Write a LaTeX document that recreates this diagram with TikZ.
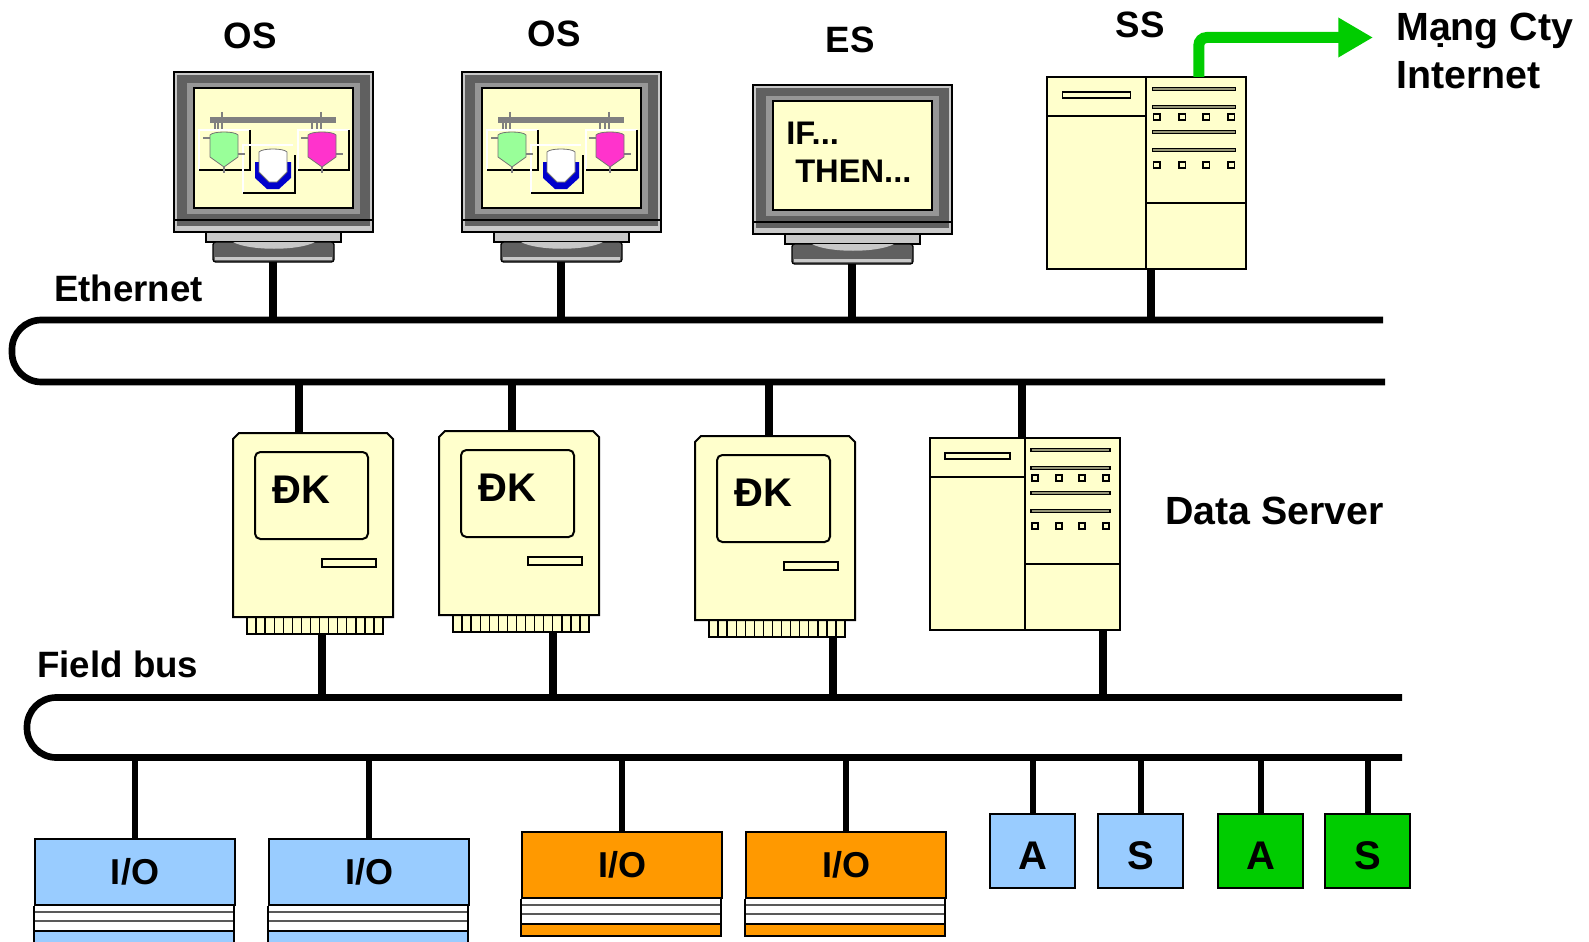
\documentclass[tikz,border=0pt]{standalone}
\usepackage{fontspec}
\setmainfont{Liberation Sans}
\usetikzlibrary{arrows.meta,calc}

\definecolor{cream}{RGB}{255,255,204}
\definecolor{skyblue}{RGB}{153,204,255}
\definecolor{amber}{RGB}{255,153,0}
\definecolor{signalgreen}{RGB}{0,204,0}
\definecolor{casedark}{RGB}{96,96,96}
\definecolor{casemid}{RGB}{150,150,150}
\definecolor{caselight}{RGB}{200,200,200}
\definecolor{pipegray}{RGB}{128,128,128}
\definecolor{tankgreen}{RGB}{153,255,153}
\definecolor{tankpink}{RGB}{255,51,204}
\definecolor{jacket}{RGB}{0,0,204}
\definecolor{slotbar}{RGB}{150,150,120}

\tikzset{
  bus/.style={line width=5pt, rounded corners=22pt},
  link/.style={line width=6pt},
  droplink/.style={line width=4.5pt},
  bodyline/.style={draw=black, line width=1.5pt},
  thinedge/.style={draw=black, line width=1pt},
  lbl/.style={font=\fontsize{27.5}{33}\selectfont\bfseries, inner sep=0pt},
  biglbl/.style={lbl, font=\fontsize{29.5}{35}\selectfont\bfseries},
  screentxt/.style={font=\fontsize{24.5}{29}\selectfont\bfseries, inner sep=0pt},
  iobox/.style={bodyline, minimum width=150pt, minimum height=49.5pt, inner sep=0pt,
                anchor=north west, font=\fontsize{27}{32}\selectfont\bfseries},
  fieldbox/.style={bodyline, minimum width=63.75pt, minimum height=55.5pt, inner sep=0pt,
                   anchor=north west, text height=27pt, text depth=0pt,
                   font=\fontsize{30}{36}\selectfont\bfseries},
  uplink/.style={signalgreen, line width=8.25pt, rounded corners=6pt,
                 -{Triangle[length=26pt,width=28pt]}},
}

% process tank: left x, top y, fill
\newcommand{\vessel}[3]{%
  \draw[fill=#3, draw=black!55, line width=0.6pt] (#1,#2+25) -- (#1,#2+3)
    .. controls (#1+3,#2-1) and (#1+25,#2-1) .. (#1+28,#2+3)
    -- (#1+28,#2+25) -- (#1+14,#2+35) -- cycle;}

% operator screen: two tanks and a jacketed reactor
\newcommand{\plantview}{%
  \draw[pipegray, line width=4pt] (16,32) -- (142,32);
  \foreach \xx in {21,24,28,118,123,127}
    \draw[pipegray, line width=1.2pt] (\xx,32) -- (\xx,43);
  \draw[pipegray, line width=1.2pt] (28,24) -- (28,32) (127,24) -- (127,32);
  \draw[white, line width=1pt] (5,82) -- (5,42) -- (56,42);
  \draw[line width=1.2pt] (56,42) -- (56,82) -- (5,82);
  \draw[white, line width=1pt] (104,82) -- (104,42) -- (155,42);
  \draw[line width=1.2pt] (155,42) -- (155,82) -- (104,82);
  \draw[white, line width=1pt] (49,105) -- (49,57) -- (99,57);
  \draw[line width=1.2pt] (101,67) -- (101,105) -- (49,105);
  \draw[pipegray, line width=2pt] (9,50) -- (16,50) (44,66) -- (51,66) (30,79) -- (30,85)
    (107,50) -- (114,50) (142,66) -- (149,66) (128,79) -- (128,85);
  \vessel{16}{44}{tankgreen}
  \vessel{114}{44}{tankpink}
  \fill[jacket] (61,74) -- (61,90) -- (73,101) -- (85,101) -- (97,90) -- (97,74) -- cycle;
  \draw[fill=white, draw=black!55, line width=0.6pt] (65,84) -- (65,64)
    .. controls (68,60) and (90,60) .. (93,64) -- (93,84) -- (83,94) -- (75,94) -- cycle;
}

% CRT station: name, x, y, housing height, screen content
\newcommand{\crtmonitor}[5]{%
  \begin{scope}[shift={(#2,#3)}]
    \draw[thinedge, fill=caselight] (0,0) rectangle (199,#4);
    \fill[casedark] (3,3) rectangle (196,#4-3);
    \fill[caselight] (3,#4-6) rectangle (196,#4-3);
    \draw[thinedge] (0,#4-12) -- (199,#4-12);
    \fill[casemid] (13,11) rectangle (186,#4-18);
    \draw[thinedge, fill=cream] (20,16) rectangle (179,#4-24);
    \begin{scope}[shift={(20,16)}]
      #5
    \end{scope}
    % stand
    \draw[thinedge, fill=caselight] (32,#4) rectangle (167,#4+10);
    \draw[thinedge, fill=casedark, rounded corners=2pt] (39,#4+10) rectangle (160,#4+30);
    \fill[caselight] (41,#4+25) rectangle (158,#4+28);
    \fill[caselight] (59,#4+10) .. controls (75,#4+19) and (125,#4+19) .. (141,#4+10) -- cycle;
    \coordinate (#1-down) at (99,#4+30);
  \end{scope}}

% controller: name, x, y, top port, bottom port
\newcommand{\controller}[5]{%
  \begin{scope}[shift={(#2,#3)}]
    \draw[thinedge, fill=cream] (14,184) rectangle (150,201);
    \foreach \k in {1,...,14}
      \draw[thinedge] (14+\k*9.07,184) -- (14+\k*9.07,201);
    \draw[bodyline, fill=cream] (0,184) -- (0,6) -- (6,0) -- (154,0) -- (160,6) -- (160,184) -- cycle;
    \draw[bodyline, fill=cream, rounded corners=4pt] (22,19) rectangle (135,106);
    \draw[thinedge, fill=cream] (89,126) rectangle (143,134);
    \node[lbl, font=\fontsize{30}{36}\selectfont\bfseries, anchor=base west] (#1-tag) at (39,70) {ĐK};
    \coordinate (#1-up) at (#4,0);
    \coordinate (#1-down) at (#5,201);
  \end{scope}}

% tower server: name, x, y, top port, bottom port, scope options
\newcommand{\rackserver}[6]{%
  \begin{scope}[shift={(#2,#3)}, #6]
    \draw[bodyline, fill=cream] (0,0) rectangle (190,192);
    \draw[bodyline] (95,0) -- (95,192) (0,39) -- (95,39) (95,126) -- (190,126);
    \draw[thinedge, fill=cream] (15,15) rectangle (80,21);
    \foreach \yy in {12,30,55,73}
      \draw[thinedge, fill=slotbar] (101,\yy-1.5) rectangle (180,\yy+1.5);
    \foreach \yy in {40,88}
      \foreach \xx in {105,129,152,176}
        \draw[thinedge, fill=cream] (\xx-3,\yy-3) rectangle (\xx+3,\yy+3);
    \coordinate (#1-up) at (#4,0);
    \coordinate (#1-down) at (#5,192);
  \end{scope}}

% terminal strip under an I/O card: node, fill
\newcommand{\iobase}[2]{%
  \begin{scope}[shift={(#1.south west)}]
    \fill[white] (0,0) rectangle (200,25);
    \draw[black!65, line width=1pt] (0,6) -- (200,6) (0,15) -- (200,15);
    \draw[bodyline, fill=#2] (0,25) rectangle (200,37);
    \draw[bodyline] (0,0) -- (0,37) (200,0) -- (200,37);
  \end{scope}}

\begin{document}
\begin{tikzpicture}[x=0.75pt, y=-0.75pt]
  \useasboundingbox (0,0) rectangle (1589,942);

  % ---- buses ----
  \coordinate (eth-up) at (0,320);
  \coordinate (eth-low) at (0,382);
  \coordinate (fb-up) at (0,697.5);
  \coordinate (fb-low) at (0,757.5);
  \draw[bus] (1383,320) -- (12,320) -- (12,382) -- (1385,382);
  \draw[bus] (1402,697.5) -- (27,697.5) -- (27,757.5) -- (1402,757.5);
  \node[lbl, anchor=base west] (eth-tag) at (54,301) {Ethernet};
  \node[lbl, anchor=base west] (fb-tag) at (37,677) {Field bus};

  % ---- operator / engineering stations ----
  \crtmonitor{os1}{174}{72}{160}{\plantview}
  \crtmonitor{os2}{462}{72}{160}{\plantview}
  \crtmonitor{es}{753}{85}{149}{}
  \node[screentxt, anchor=base west] (es-if) at (786,144) {IF...};
  \node[screentxt, anchor=base west] (es-then) at (795,182) {THEN...};
  \node[lbl] (os1-tag) at (250,36) {OS};
  \node[lbl] (os2-tag) at (554,34) {OS};
  \node[lbl] (es-tag) at (850,40) {ES};

  % ---- servers ----
  \rackserver{ss}{1047}{77}{145}{99}{xscale=1.047}
  \rackserver{ds}{930}{438}{92}{173}{}
  \node[lbl] (ss-tag) at (1140,25) {SS};
  \node[biglbl, anchor=base west] (ds-tag) at (1165,524) {Data Server};
  \coordinate (wan) at (1373,37.5);
  \draw[uplink] (ss-up) |- (wan);
  \node[biglbl, anchor=base west] (wan-tag) at (1396,41) {Mạng Cty};
  \node[biglbl, anchor=base west] (inet-tag) at (1396,89) {Internet};

  % ---- controllers ----
  \controller{dk1}{233}{433}{66}{89}
  \controller{dk2}{439}{431}{73}{114}
  \controller{dk3}{695}{436}{74}{138}

  % ---- field devices ----
  \node[iobox, fill=skyblue] (io1) at (34,838) {I/O};
  \node[iobox, fill=skyblue] (io2) at (268,838) {I/O};
  \node[iobox, fill=amber] (io3) at (521,831) {I/O};
  \node[iobox, fill=amber] (io4) at (745,831) {I/O};
  \iobase{io1}{skyblue}
  \iobase{io2}{skyblue}
  \iobase{io3}{amber}
  \iobase{io4}{amber}
  \node[fieldbox, fill=skyblue] (act1) at (989,813) {A};
  \node[fieldbox, fill=skyblue] (sen1) at (1097,813) {S};
  \node[fieldbox, fill=signalgreen] (act2) at (1217,813) {A};
  \node[fieldbox, fill=signalgreen] (sen2) at (1324,813) {S};

  % ---- taps ----
  \foreach \dev in {os1,os2,es,ss}
    \draw[link] (\dev-down) -- (\dev-down |- eth-up);
  \foreach \dev in {dk1,dk2,dk3,ds}
    \draw[link] (\dev-up) -- (\dev-up |- eth-low);
  \foreach \dev in {dk1,dk2,dk3,ds}
    \draw[link] (\dev-down) -- (\dev-down |- fb-up);
  \foreach \dev in {io1,io2,io3,io4,act1,sen1,act2,sen2}
    \draw[droplink] (\dev.north) -- (\dev.north |- fb-low);
\end{tikzpicture}
\end{document}
